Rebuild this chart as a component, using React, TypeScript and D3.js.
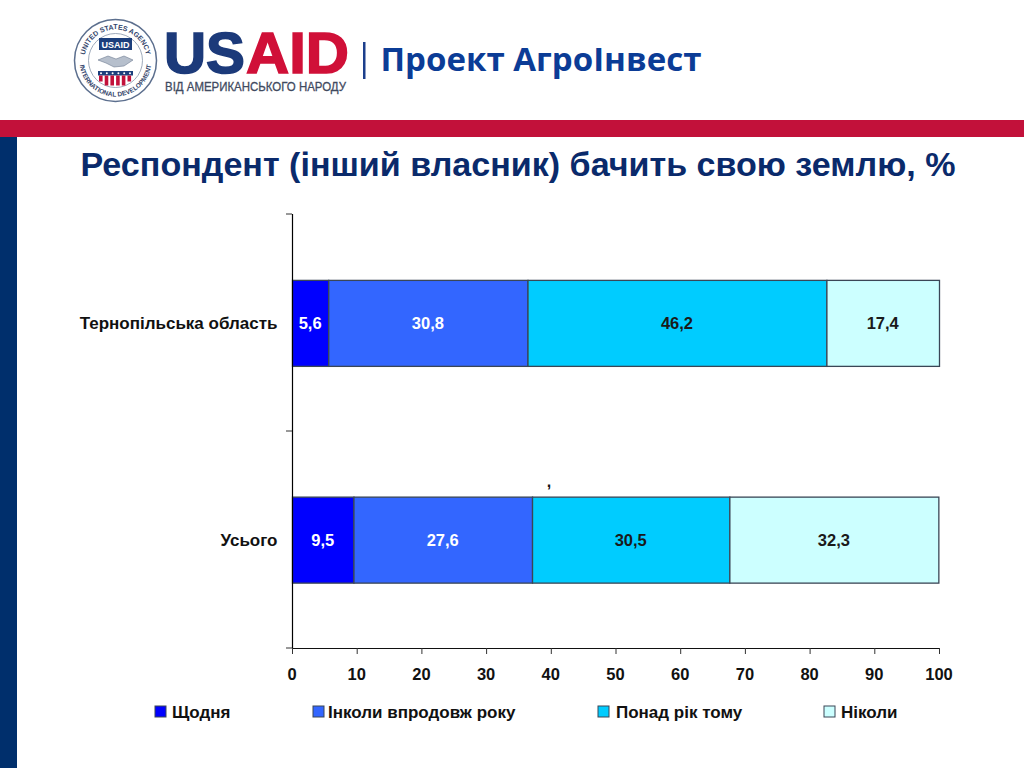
import React from "react";
import * as d3 from "d3";

const categories = ["Тернопільська область", "Усього"];
const seriesNames = ["Щодня", "Інколи впродовж року", "Понад рік тому", "Ніколи"];
const seriesColors = ["#0000ff", "#3366ff", "#00ccff", "#ccffff"];
const ternopil = [5.6, 30.8, 46.2, 17.4];
const total = [9.5, 27.6, 30.5, 32.3];
const rows = [ternopil, total];
const xTicks = [0, 10, 20, 30, 40, 50, 60, 70, 80, 90, 100];
const legendBoxX = [155, 313, 598, 824];
const legendTextX = [172, 328, 616, 841];
const sealStars = [0, 1, 2, 3, 4, 5];
const sealStripes = [0, 1, 2, 3, 4, 5];

const font = "'Liberation Sans', Arial, sans-serif";
const navy = "#002f6c";
const red = "#c2113a";

const x = d3.scaleLinear().domain([0, 100]).range([292.5, 939.5]);
const y = d3.scaleBand<string>().domain(categories).range([215, 648.5]).paddingInner(0).paddingOuter(0);
const barH = 86;

function Logo() {
  const cx = 115.5, cy = 60.5;
  return (
    <g fontFamily={font}>
      <circle cx={cx} cy={cy} r={41} fill="#fff" stroke="#5c6f8e" strokeWidth={1.5} />
      <circle cx={cx} cy={cy} r={27} fill="#fff" stroke="#8794a8" strokeWidth={0.8} />
      <defs>
        <path id="sealTop" d={`M ${cx - 31} ${cy} A 31 31 0 0 1 ${cx + 31} ${cy}`} />
        <path id="sealBottom" d={`M ${cx - 36} ${cy} A 36 36 0 0 0 ${cx + 36} ${cy}`} />
      </defs>
      <text fontSize={7} fontWeight={700} fill="#33456b">
        <textPath href="#sealTop" startOffset="50%" textAnchor="middle">UNITED STATES AGENCY</textPath>
      </text>
      <text fontSize={6.5} fontWeight={700} fill="#33456b">
        <textPath href="#sealBottom" startOffset="50%" textAnchor="middle">INTERNATIONAL DEVELOPMENT</textPath>
      </text>
      <rect x={99} y={38} width={33} height={12} fill="#1c3f7c" />
      <text x={115.5} y={47.5} fontSize={9} fontWeight={700} fill="#fff" textAnchor="middle">USAID</text>
      <path d="M 98 60 L 108 56 L 116 59 L 124 56 L 133 60 L 124 66 L 114 67 L 106 63 Z" fill="#b6bfcc" stroke="#6d7a90" strokeWidth={0.6} />
      <rect x={98} y={71} width={35} height={4.5} fill="#1c3f7c" />
      {sealStars.map((d) => (
        <circle key={d} cx={101 + d * 5.8} cy={73.2} r={1} fill="#fff" />
      ))}
      {sealStripes.map((d) => (
        <rect key={d} x={99 + d * 5.7} y={75.5} width={3.6} height={d === 0 || d === 5 ? 6 : 10} fill="#c2113a" />
      ))}
      <text x={164} y={73} fontSize={57} fontWeight={700} fill="#1c3a7a" stroke="#1c3a7a" strokeWidth={1.6} textLength={81} lengthAdjust="spacingAndGlyphs">US</text>
      <text x={246} y={73} fontSize={57} fontWeight={700} fill="#d01038" stroke="#d01038" strokeWidth={1.6} textLength={103} lengthAdjust="spacingAndGlyphs">AID</text>
      <text x={165} y={91} fontSize={12.5} fontWeight={400} stroke="#3f4a60" strokeWidth={0.3} fill="#3f4a60" textLength={181} lengthAdjust="spacingAndGlyphs">ВІД АМЕРИКАНСЬКОГО НАРОДУ</text>
      <rect x={363} y={42} width={2.5} height={37} fill="#1c3f8c" />
      <text x={380.5} y={71} fontSize={32} fontWeight={700} fontFamily="'Open Sans', sans-serif" fill="#0b3c96" textLength={321} lengthAdjust="spacingAndGlyphs">Проект АгроІнвест</text>
    </g>
  );
}

export default function App() {
  return (
    <svg width={1024} height={768} viewBox="0 0 1024 768" style={{ position: "fixed", left: 0, top: 0, background: "#fff" }}>
      <Logo />
      <rect x={0} y={120} width={1024} height={17} fill={red} />
      <rect x={0} y={137} width={17} height={631} fill={navy} />
      <text x={80.5} y={176} fontFamily={font} fontSize={33} fontWeight={700} fill="#0a2a6b" textLength={875} lengthAdjust="spacingAndGlyphs">
        Респондент (інший власник) бачить свою землю, %
      </text>

      {rows.map((row, i) => {
        const cat = categories[i];
        const yc = y(cat)! + y.bandwidth() / 2;
        const stack = d3.cumsum(row);
        return (
          <g key={cat}>
            {row.map((v, j) => {
              const x0 = x(stack[j] - v);
              const x1 = x(stack[j]);
              return (
                <g key={j}>
                  <rect x={x0} y={yc - barH / 2} width={x1 - x0} height={barH} fill={seriesColors[j]} stroke="#3a4656" strokeWidth={1.3} />
                  <text x={(x0 + x1) / 2 - 0.5} y={yc + 5.5} textAnchor="middle" fontFamily={font} fontSize={16.5} fontWeight={700} fill={j < 2 ? "#fff" : "#1a1a1a"}>
                    {String(v).replace(".", ",")}
                  </text>
                </g>
              );
            })}
            <text x={277.5} y={yc + 5.5} textAnchor="end" fontFamily={font} fontSize={17} fontWeight={700} fill="#111">{cat}</text>
          </g>
        );
      })}
      <text x={549} y={487} textAnchor="middle" fontFamily={font} fontSize={16} fontWeight={700} fill="#111">,</text>

      <line x1={292.5} x2={292.5} y1={214} y2={648} stroke="#000" strokeWidth={1.2} />
      {[214, 431, 648].map((t) => (
        <line key={t} x1={286} x2={292} y1={t} y2={t} stroke="#333" strokeWidth={1} />
      ))}
      <line x1={292} x2={939.5} y1={648.5} y2={648.5} stroke="#111" strokeWidth={1.2} />
      {xTicks.map((t) => (
        <g key={t}>
          <line x1={x(t)} x2={x(t)} y1={648} y2={654} stroke="#333" strokeWidth={1} />
          <text x={x(t) - 0.5} y={680} textAnchor="middle" fontFamily={font} fontSize={16.5} fontWeight={700} fill="#111">{t}</text>
        </g>
      ))}

      {seriesNames.map((s, i) => (
        <g key={s}>
          <rect x={legendBoxX[i]} y={706} width={11} height={11} fill={seriesColors[i]} stroke="#3a4656" strokeWidth={1} />
          <text x={legendTextX[i]} y={717.5} fontFamily={font} fontSize={17} fontWeight={700} fill="#111">{s}</text>
        </g>
      ))}
    </svg>
  );
}
